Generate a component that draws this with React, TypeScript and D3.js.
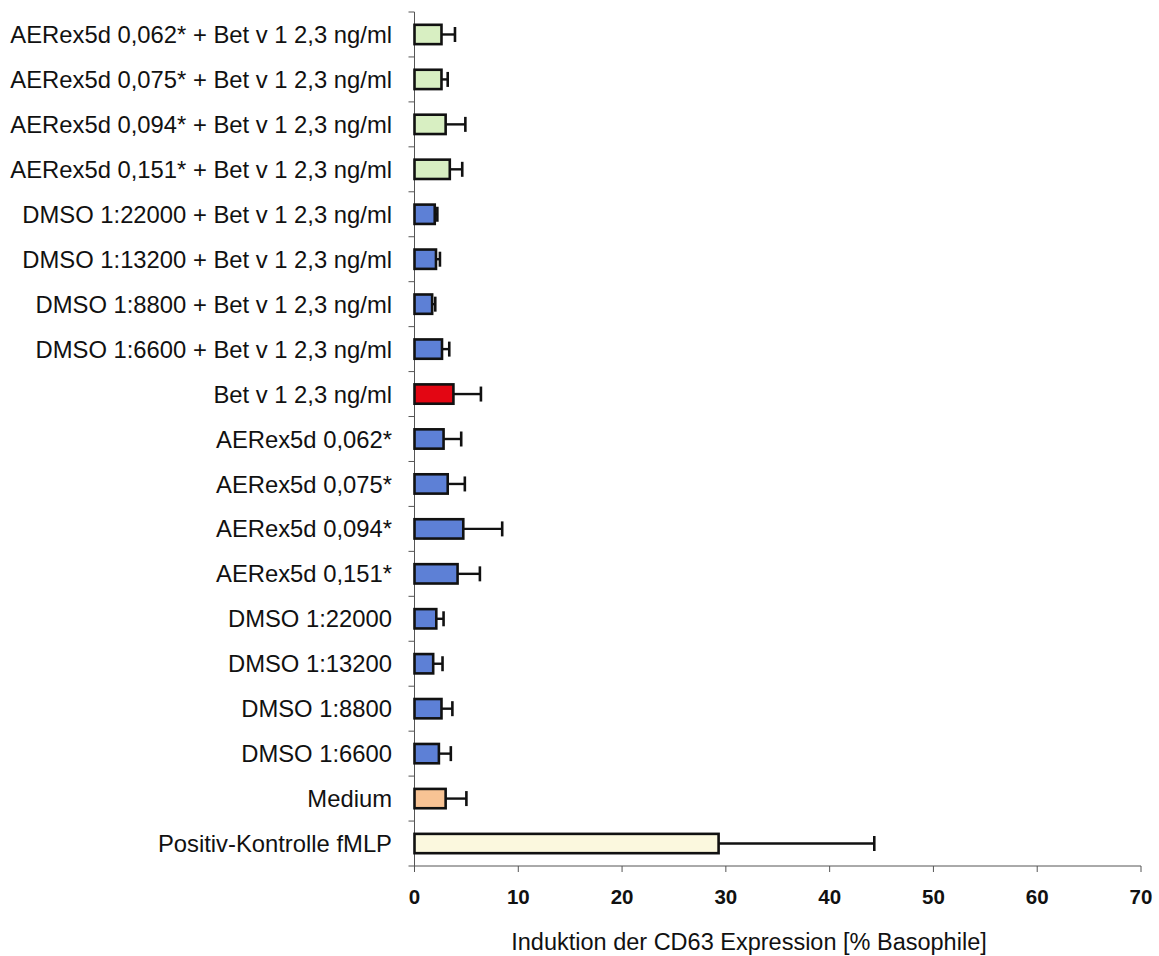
import React from "react";
import * as d3 from "d3";

const categories = [
  "AERex5d 0,062* + Bet v 1 2,3 ng/ml",
  "AERex5d 0,075* + Bet v 1 2,3 ng/ml",
  "AERex5d 0,094* + Bet v 1 2,3 ng/ml",
  "AERex5d 0,151* + Bet v 1 2,3 ng/ml",
  "DMSO 1:22000 + Bet v 1 2,3 ng/ml",
  "DMSO 1:13200 + Bet v 1 2,3 ng/ml",
  "DMSO 1:8800 + Bet v 1 2,3 ng/ml",
  "DMSO 1:6600 + Bet v 1 2,3 ng/ml",
  "Bet v 1 2,3 ng/ml",
  "AERex5d 0,062*",
  "AERex5d 0,075*",
  "AERex5d 0,094*",
  "AERex5d 0,151*",
  "DMSO 1:22000",
  "DMSO 1:13200",
  "DMSO 1:8800",
  "DMSO 1:6600",
  "Medium",
  "Positiv-Kontrolle fMLP",
];

const values = [2.6, 2.6, 3.0, 3.4, 1.95, 2.07, 1.7, 2.65, 3.75, 2.8, 3.2, 4.7, 4.15, 2.1, 1.8, 2.6, 2.35, 3.0, 29.3];
const errorTops = [3.9, 3.2, 4.9, 4.6, 2.2, 2.45, 2.0, 3.35, 6.4, 4.5, 4.85, 8.45, 6.3, 2.8, 2.7, 3.65, 3.5, 5.0, 44.3];
const groups = ["green", "green", "green", "green", "blue", "blue", "blue", "blue", "red", "blue", "blue", "blue", "blue", "blue", "blue", "blue", "blue", "orange", "yellow"];
const groupColors: Record<string, string> = {
  green: "#d8efc2",
  blue: "#5d80d6",
  red: "#e30613",
  orange: "#f8c394",
  yellow: "#fbf8de",
};
const xTicks = [0, 10, 20, 30, 40, 50, 60, 70];
const xTitle = "Induktion der CD63 Expression [% Basophile]";

export default function App() {
  const W = 1159, H = 956;
  const x0 = 414.5, x1 = 1141;
  const y0 = 12, y1 = 866;
  const x = d3.scaleLinear().domain([0, 70]).range([x0, x1]);
  const y = d3.scaleBand<string>().domain(categories).range([y0, y1]).paddingInner(0.57).paddingOuter(0.285);
  const step = y.step();
  const font = "'Liberation Sans', Arial, sans-serif";
  return (
    <svg width={W} height={H} style={{ position: "absolute", left: 0, top: 0, background: "#fff" }}>
      {/* y axis */}
      <line x1={x0} x2={x0} y1={y0} y2={y1} stroke="#555" strokeWidth={1} />
      {d3.range(categories.length + 1).map((i) => (
        <line key={"yt" + i} x1={x0 - 6} x2={x0} y1={y0 + i * step} y2={y0 + i * step} stroke="#555" strokeWidth={1} />
      ))}
      {/* x axis */}
      <line x1={x0} x2={x1} y1={y1} y2={y1} stroke="#555" strokeWidth={1} />
      {xTicks.map((t) => (
        <g key={"xt" + t}>
          <line x1={x(t)} x2={x(t)} y1={y1} y2={y1 + 6} stroke="#555" strokeWidth={1} />
          <text x={x(t)} y={y1 + 38} textAnchor="middle" fontFamily={font} fontWeight="bold" fontSize={20.5} fill="#111">
            {t}
          </text>
        </g>
      ))}
      <text x={749} y={950} textAnchor="middle" fontFamily={font} fontSize={23.5} fill="#111">
        {xTitle}
      </text>
      {/* bars */}
      {categories.map((c, i) => {
        const yb = y(c)!;
        const bh = y.bandwidth();
        const cy = yb + bh / 2;
        return (
          <g key={c}>
            <line x1={x(values[i])} x2={x(errorTops[i])} y1={cy} y2={cy} stroke="#111" strokeWidth={2.4} />
            <line x1={x(errorTops[i])} x2={x(errorTops[i])} y1={cy - 7.5} y2={cy + 7.5} stroke="#111" strokeWidth={2.6} />
            <rect x={x(0)} y={yb} width={x(values[i]) - x(0)} height={bh} fill={groupColors[groups[i]]} stroke="#111" strokeWidth={2.6} />
            <text x={392} y={cy} dy="0.36em" textAnchor="end" fontFamily={font} fontSize={23.8} fill="#111">
              {c}
            </text>
          </g>
        );
      })}
    </svg>
  );
}
